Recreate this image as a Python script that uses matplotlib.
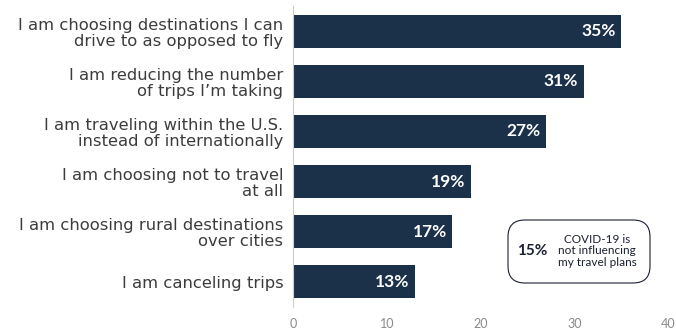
import matplotlib.pyplot as plt
from matplotlib.patches import FancyBboxPatch

categories = [
    "I am choosing destinations I can\ndrive to as opposed to fly",
    "I am reducing the number\nof trips I\u2019m taking",
    "I am traveling within the U.S.\ninstead of internationally",
    "I am choosing not to travel\nat all",
    "I am choosing rural destinations\nover cities",
    "I am canceling trips",
]
values = [35, 31, 27, 19, 17, 13]
xticks = [0, 10, 20, 30, 40]
callout_value = "15%"
callout_text = "COVID-19 is\nnot influencing\nmy travel plans"

plt.rcParams['font.family'] = ['Lato', 'DejaVu Sans']

fig = plt.figure(figsize=(6.76, 3.32), dpi=100)
ax = fig.add_axes([293/676, (332-307)/332, (668-293)/676, (307-6)/332])

bar_color = "#1b3049"
y = list(range(len(values)))
ax.barh(y, values, height=0.66, color=bar_color)
ax.set_ylim(len(values) - 0.5, -0.5)
ax.set_xlim(0, 40)

for yi, v in zip(y, values):
    ax.text(v - 0.6, yi, f"{v}%", ha="right", va="center", color="white",
            fontsize=12.5, fontweight="bold")

ax.set_yticks(y)
ax.set_yticklabels(categories, fontsize=11.8, color="#3c3c3c", linespacing=1.1,
                   family=['DejaVu Sans'])
ax.set_xticks(xticks)
ax.set_xticklabels([str(t) for t in xticks], fontsize=9, color="#8a8a8a")
ax.tick_params(axis="y", length=0, pad=7)
ax.tick_params(axis="x", length=0, pad=8)
for s in ["top", "right", "bottom"]:
    ax.spines[s].set_visible(False)
ax.spines["left"].set_color("#cccccc")
ax.spines["left"].set_linewidth(0.8)

# callout box
bx0, by0, bw, bh = 508/676, (332-283)/332, 142/676, 63/332
box = FancyBboxPatch((bx0, by0), bw, bh, boxstyle="round,pad=0,rounding_size=0.025",
                     transform=fig.transFigure, facecolor="white", edgecolor="#1b2030",
                     linewidth=0.8, mutation_aspect=676/332)
fig.patches.append(box)
fig.text(532/676, (332-251)/332, callout_value, ha="center", va="center",
         fontsize=11, fontweight="bold", color="#1b2030")
fig.text(597/676, (332-251)/332, callout_text, ha="center", va="center",
         fontsize=8.5, color="#1b2030", linespacing=1.05)

fig.savefig("out.png", dpi=100)
